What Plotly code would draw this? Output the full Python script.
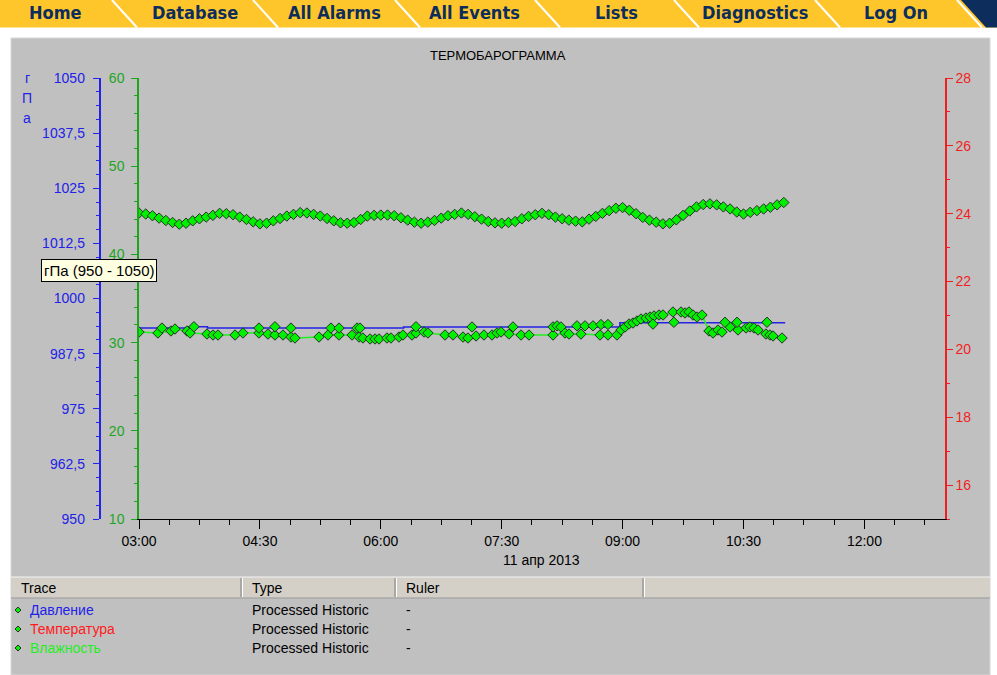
import pandas as pd
import plotly.graph_objects as go

# ---------------- data ----------------
BASE = pd.Timestamp("2013-04-11 03:00")
X_START = "2013-04-11 03:00"
X_END = "2013-04-11 13:00"

# Температура, sampled every 5 minutes from 03:00
temp_step_minutes = 5
temp_values = [
    24.02, 23.99, 23.94, 23.87, 23.80, 23.74, 23.69, 23.72, 23.79, 23.85, 23.90, 23.95,
    24.01, 24.00, 23.97, 23.90, 23.83, 23.76, 23.70, 23.72, 23.79, 23.86, 23.93, 23.98,
    24.03, 24.02, 23.98, 23.93, 23.86, 23.79, 23.73, 23.72, 23.74, 23.83, 23.93, 23.95,
    23.96, 23.96, 23.94, 23.88, 23.81, 23.75, 23.72, 23.75, 23.80, 23.87, 23.94, 23.98,
    24.02, 23.98, 23.91, 23.84, 23.77, 23.73, 23.72, 23.74, 23.77, 23.85, 23.92, 23.97,
    24.01, 23.97, 23.90, 23.85, 23.81, 23.78, 23.76, 23.84, 23.92, 24.01, 24.09, 24.16,
    24.18, 24.10, 24.00, 23.89, 23.81, 23.75, 23.70, 23.72, 23.82, 23.95, 24.08, 24.20,
    24.27, 24.29, 24.26, 24.20, 24.14, 24.05, 23.99, 24.04, 24.09, 24.14, 24.19, 24.26,
    24.33,
]

# Влажность (minutes after 03:00, %)
hum_minutes = [
    0, 14.1, 23.8, 26.8, 35.7, 38.0, 50.6, 55.1, 58.8, 71.5, 77.4, 89.3,
    96.0, 101.2, 107.2, 113.1, 116.1, 134.0, 140.7, 148.9, 158.6, 163.8, 166.7, 172.0,
    175.7, 178.7, 184.6, 187.6, 193.5, 196.5, 203.2, 206.2, 212.2, 215.1, 227.8, 233.7,
    241.2, 244.9, 250.9, 256.8, 262.8, 266.5, 269.5, 275.4, 284.4, 290.3, 308.2, 317.1,
    320.1, 329.0, 343.2, 349.1, 355.8, 358.8, 361.8, 364.8, 367.7, 370.7, 373.7, 377.4,
    380.4, 383.4, 387.1, 390.1, 397.5, 403.5, 406.5, 409.4, 412.4, 415.4, 419.1, 424.3,
    427.3, 431.0, 434.0, 440.0, 445.9, 451.9, 454.8, 457.8, 460.8, 466.7, 469.7, 472.0,
    478.7,
]
hum_values = [
    31.20, 31.09, 31.32, 31.54, 31.32, 31.09, 30.97, 30.86, 30.86, 30.86, 31.09, 31.09,
    30.97, 30.86, 30.86, 30.63, 30.52, 30.63, 30.86, 30.86, 30.86, 30.63, 30.52, 30.41,
    30.41, 30.41, 30.52, 30.52, 30.63, 30.86, 30.86, 31.09, 31.20, 31.09, 30.86, 30.86,
    30.63, 30.52, 30.75, 30.86, 30.86, 31.09, 31.20, 30.97, 30.86, 30.86, 30.86, 31.09,
    30.97, 30.97, 30.86, 30.86, 30.86, 31.43, 31.77, 32.11, 32.22, 32.45, 32.68, 32.79,
    32.90, 33.02, 33.13, 33.13, 33.47, 33.47, 33.36, 33.47, 33.13, 32.90, 33.13, 31.32,
    31.09, 31.43, 31.20, 31.77, 31.43, 31.66, 31.77, 31.66, 31.43, 30.97, 30.86, 30.75,
    30.52,
]

# Давление (hPa): step line and raw sample markers
pres_line_minutes = [0, 36.5, 51, 197, 358, 481]
pres_line_values = [993.3, 993.6, 993.3, 993.55, 994.5, 994.5]
pres_marker_minutes = [17.1, 40.9, 89.3, 101.2, 113.1, 142.9, 148.9, 162.3, 164.5, 206.2,
                       247.9, 278.4, 308.2, 311.2, 314.1, 326.0, 332.0, 338.0, 343.9, 349.1,
                       382.6, 398.2, 436.2, 445.2, 467.5]
pres_marker_values = [993.3, 993.6, 993.3, 993.6, 993.3, 993.3, 993.3, 993.3, 993.3, 993.6,
                      993.55, 993.55, 993.55, 993.8, 993.55, 993.8, 993.8, 993.8, 994.1, 994.1,
                      994.2, 994.6, 994.6, 994.6, 994.6]

pres_tickvals = [950, 962.5, 975, 987.5, 1000, 1012.5, 1025, 1037.5, 1050]
pres_ticktext = ["950", "962,5", "975", "987,5", "1000", "1012,5", "1025", "1037,5", "1050"]

title_text = "ТЕРМОБАРОГРАММА"
date_label = "11 апр 2013"
unit_letters = ["г", "П", "а"]
tooltip_text = "гПа (950 - 1050)"
nav_labels = ["Home", "Database", "All Alarms", "All Events", "Lists", "Diagnostics", "Log On"]
table_headers = ["Trace", "Type", "Ruler"]
trace_names = ["Давление", "Температура", "Влажность"]
trace_types = ["Processed Historic", "Processed Historic", "Processed Historic"]
trace_rulers = ["-", "-", "-"]

# ---------------- styling ----------------
W, H = 997, 675
FONT = "Liberation Sans, Arial, sans-serif"
BLUE = "#2222e8"
GREEN_AX = "#1ea51e"
GREEN_LINE = "#22ee22"
RED = "#f01e1e"
MK_FILL = "#00f000"
MK_EDGE = "#263026"
NAVY = "#0d2d5c"
YELLOW = "#ffc62b"
PANEL = "#c0c0c0"


def px(x):
    return x / W


def py(y):
    return 1 - y / H


def times(mins):
    return [BASE + pd.Timedelta(minutes=float(m)) for m in mins]


temp_times = [BASE + pd.Timedelta(minutes=i * temp_step_minutes) for i in range(len(temp_values))]

marker = dict(symbol="diamond", size=8, color=MK_FILL, line=dict(color=MK_EDGE, width=1))

fig = go.Figure()
fig.add_trace(go.Scatter(x=times(pres_line_minutes), y=pres_line_values, yaxis="y",
                         mode="lines", line=dict(color=BLUE, width=1.6, shape="hv"),
                         name=trace_names[0], hoverinfo="skip"))
fig.add_trace(go.Scatter(x=times(hum_minutes), y=hum_values, yaxis="y2",
                         mode="lines+markers", line=dict(color=GREEN_LINE, width=1.6),
                         marker=marker, name=trace_names[2]))
fig.add_trace(go.Scatter(x=times(pres_marker_minutes), y=pres_marker_values, yaxis="y4",
                         mode="markers", marker=marker, name=trace_names[0]))
fig.add_trace(go.Scatter(x=temp_times, y=temp_values, yaxis="y3",
                         mode="lines+markers", line=dict(color=RED, width=1),
                         marker=marker, name=trace_names[1]))

XD = [px(139), px(945)]
YD = [py(519), py(78)]
tickfont = lambda c: dict(family=FONT, size=14, color=c)

shapes = []
# nav bar
shapes.append(dict(type="rect", xref="paper", yref="paper", x0=0, x1=1, y0=py(27.5), y1=1,
                   fillcolor=YELLOW, line=dict(width=0), layer="below"))
for sx in [112, 253, 395, 535, 674, 815, 957]:
    shapes.append(dict(type="line", xref="paper", yref="paper", x0=px(sx), y0=py(0),
                       x1=px(sx + 25), y1=py(27.5), line=dict(color="white", width=2), layer="below"))
shapes.append(dict(type="path", xref="paper", yref="paper",
                   path=f"M {px(961)},{py(0)} L 1,{py(0)} L 1,{py(27.5)} L {px(986)},{py(27.5)} Z",
                   fillcolor=NAVY, line=dict(width=0), layer="below"))
# gray panel
shapes.append(dict(type="rect", xref="paper", yref="paper", x0=px(11), x1=px(990), y0=0, y1=py(38),
                   fillcolor=PANEL, line=dict(color="#d6d6d6", width=1), layer="below"))
# table header
shapes.append(dict(type="rect", xref="paper", yref="paper", x0=px(11), x1=px(990), y0=py(598), y1=py(577),
                   fillcolor="#d4d0c8", line=dict(width=0), layer="below"))
shapes.append(dict(type="line", xref="paper", yref="paper", x0=px(11), x1=px(990), y0=py(577), y1=py(577),
                   line=dict(color="#f4f4f4", width=1), layer="below"))
shapes.append(dict(type="line", xref="paper", yref="paper", x0=px(11), x1=px(990), y0=py(598), y1=py(598),
                   line=dict(color="#9a9a9a", width=1), layer="below"))
for cx in [241, 395, 643]:
    shapes.append(dict(type="line", xref="paper", yref="paper", x0=px(cx), x1=px(cx), y0=py(597), y1=py(578),
                       line=dict(color="#808080", width=1), layer="below"))
    shapes.append(dict(type="line", xref="paper", yref="paper", x0=px(cx + 1.5), x1=px(cx + 1.5), y0=py(597), y1=py(578),
                       line=dict(color="#ffffff", width=1), layer="below"))
# legend bullets
for ry in [610, 629, 648]:
    shapes.append(dict(type="path", xref="paper", yref="paper",
                       path=f"M {px(18)},{py(ry-3)} L {px(21)},{py(ry)} L {px(18)},{py(ry+3)} L {px(15)},{py(ry)} Z",
                       fillcolor=MK_FILL, line=dict(color=MK_EDGE, width=1)))

ann = []
nav_centers = [55, 195, 334, 474, 616, 755, 896]
for lab, cx in zip(nav_labels, nav_centers):
    ann.append(dict(text=f"<b>{lab}</b>", x=px(cx), y=py(25), xref="paper", yref="paper",
                    xanchor="center", yanchor="bottom", showarrow=False,
                    font=dict(family="DejaVu Sans Condensed, Liberation Sans Narrow, sans-serif",
                              size=18, color=NAVY)))
ann.append(dict(text=title_text, x=px(498), y=py(55), xref="paper", yref="paper", showarrow=False,
                xanchor="center", yanchor="middle", font=dict(family=FONT, size=13, color="black")))
for letter, ly in zip(unit_letters, [78, 98, 118]):
    ann.append(dict(text=letter, x=px(27), y=py(ly), xref="paper", yref="paper", showarrow=False,
                    xanchor="center", yanchor="middle", font=dict(family=FONT, size=14, color=BLUE)))
ann.append(dict(text=tooltip_text, x=px(41), y=py(259), xref="paper", yref="paper", showarrow=False,
                xanchor="left", yanchor="top", bgcolor="#ffffe1", bordercolor="black", borderwidth=1,
                borderpad=2, font=dict(family=FONT, size=15, color="black")))
ann.append(dict(text=date_label, x=px(541), y=py(560), xref="paper", yref="paper", showarrow=False,
                xanchor="center", yanchor="middle", font=dict(family=FONT, size=14, color="black")))
for lab, hx in zip(table_headers, [19, 250, 404]):
    ann.append(dict(text=lab, x=px(hx), y=py(588), xref="paper", yref="paper", showarrow=False,
                    xanchor="left", yanchor="middle", font=dict(family=FONT, size=14, color="black")))
name_colors = [BLUE, "#ff1a1a", "#22ee22"]
for i, ry in enumerate([610, 629, 648]):
    ann.append(dict(text=trace_names[i], x=px(28), y=py(ry), xref="paper", yref="paper", showarrow=False,
                    xanchor="left", yanchor="middle", font=dict(family=FONT, size=14, color=name_colors[i])))
    ann.append(dict(text=trace_types[i], x=px(250), y=py(ry), xref="paper", yref="paper", showarrow=False,
                    xanchor="left", yanchor="middle", font=dict(family=FONT, size=14, color="black")))
    ann.append(dict(text=trace_rulers[i], x=px(404), y=py(ry), xref="paper", yref="paper", showarrow=False,
                    xanchor="left", yanchor="middle", font=dict(family=FONT, size=14, color="black")))

fig.update_layout(
    width=W, height=H, margin=dict(l=0, r=0, t=0, b=0, pad=0, autoexpand=False),
    paper_bgcolor="white", plot_bgcolor="rgba(0,0,0,0)",
    showlegend=False, shapes=shapes, annotations=ann,
    font=dict(family=FONT),
    xaxis=dict(domain=XD, anchor="y", type="date", range=[X_START, X_END],
               tick0=X_START, dtick=90 * 60 * 1000, tickformat="%H:%M",
               showline=True, linecolor="black", linewidth=1, ticks="outside", ticklen=9,
               tickcolor="black", tickfont=tickfont("black"), showgrid=False, zeroline=False,
               ticklabelstandoff=0, automargin=False,
               minor=dict(ticks="outside", ticklen=5, tickcolor="black", dtick=22.5 * 60 * 1000,
                          tick0=X_START, showgrid=False)),
    yaxis=dict(domain=YD, anchor="free", position=px(99.5), side="left", range=[950, 1050],
               tickmode="array", tickvals=pres_tickvals, ticktext=pres_ticktext, automargin=False,
               showline=True, linecolor=BLUE, linewidth=1.5, ticks="outside", ticklen=6, tickcolor=BLUE,
               tickfont=tickfont(BLUE), showgrid=False, zeroline=False, ticklabelstandoff=5,
               minor=dict(ticks="outside", ticklen=3, tickcolor=BLUE, tickmode="linear",
                          tick0=950, dtick=3.125, showgrid=False)),
    yaxis2=dict(domain=YD, overlaying="y", anchor="x", side="left", range=[10, 60], automargin=False,
                tick0=10, dtick=10, showline=True, linecolor=GREEN_AX, linewidth=1.5,
                ticks="outside", ticklen=6, tickcolor=GREEN_AX, tickfont=tickfont(GREEN_AX),
                showgrid=False, zeroline=False, ticklabelstandoff=4,
                minor=dict(ticks="outside", ticklen=3, tickcolor=GREEN_AX, tickmode="linear",
                           tick0=10, dtick=2, showgrid=False)),
    yaxis3=dict(domain=YD, overlaying="y", anchor="x", side="right", range=[15, 28], automargin=False,
                tick0=16, dtick=2, showline=True, linecolor=RED, linewidth=1.5,
                ticks="outside", ticklen=6, tickcolor=RED, tickfont=tickfont(RED),
                showgrid=False, zeroline=False,
                minor=dict(ticks="outside", ticklen=3, tickcolor=RED, tickmode="linear",
                           tick0=15, dtick=1, showgrid=False)),
    yaxis4=dict(domain=YD, overlaying="y", anchor="x", range=[950, 1050], visible=False),
)

fig.write_html(
    "out.html",
    config={"displayModeBar": False},
    post_script="document.body.style.margin='0';document.body.style.padding='0';document.body.style.overflow='hidden';",
)
